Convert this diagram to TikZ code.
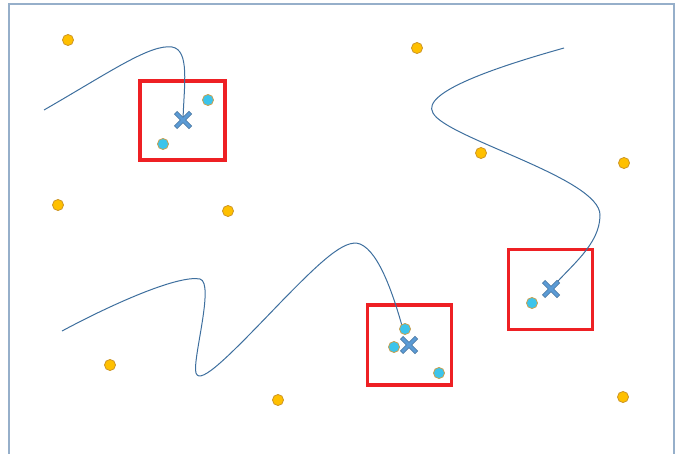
\documentclass[tikz,border=0pt]{standalone}
\usetikzlibrary{calc}
\begin{document}
\begin{tikzpicture}[x=0.75pt,y=-0.75pt,
  orangedot/.style={circle,fill={rgb,255:red,255;green,192;blue,0},draw={rgb,255:red,205;green,150;blue,40},line width=0.6pt,minimum size=8.3pt,inner sep=0pt},
  cyandot/.style={circle,fill={rgb,255:red,60;green,196;blue,235},draw={rgb,255:red,200;green,160;blue,80},line width=0.6pt,minimum size=8.3pt,inner sep=0pt},
  redbox/.style={draw={rgb,255:red,238;green,32;blue,36},line width=2.3pt},
  curve/.style={draw={rgb,255:red,62;green,111;blue,158},line width=0.75pt},
  frameline/.style={draw={rgb,255:red,150;green,175;blue,202},line width=1pt},
  xmarkouter/.style={draw={rgb,255:red,65;green,113;blue,156},line width=3.4pt},
  xmarkline/.style={draw={rgb,255:red,91;green,155;blue,213},line width=2.2pt}
]
\useasboundingbox (0,0) rectangle (677,453);
% frame
\coordinate (fbl) at (9,460);
\coordinate (ftl) at (9,4);
\coordinate (ftr) at (674,4);
\coordinate (fbr) at (674,460);
\draw[frameline] (fbl) -- (ftl) -- (ftr) -- (fbr);

% red boxes
\node[redbox,minimum width=63.75pt,minimum height=59.25pt,inner sep=0pt] (box1) at (182.5,120.5) {};
\node[redbox,minimum width=63pt,minimum height=60pt,inner sep=0pt] (box2) at (409.5,345) {};
\node[redbox,minimum width=63pt,minimum height=60pt,inner sep=0pt] (box3) at (550.5,289.5) {};

% X marks
\coordinate (x1) at (183,120);
\coordinate (x2) at (409,345);
\coordinate (x3) at (551,289);

% curves
\coordinate (c1s) at (44,110);
\draw[curve] (c1s) .. controls (110,72) and (150,44) .. (172,47)
  .. controls (190,50) and (184,85) .. (x1);
\coordinate (c2s) at (564,48);
\draw[curve] (c2s) .. controls (500,66) and (420,92) .. (433,113)
  .. controls (446,138) and (600,178) .. (600,215)
  .. controls (600,245) and (570,266) .. (x3);
\coordinate (c3s) at (62,331);
\coordinate (c3e) at (404,333);
\draw[curve] (c3s) .. controls (120,300) and (180,275) .. (200,279)
  .. controls (215,283) and (192,360) .. (196,373)
  .. controls (200,386) and (230,355) .. (280,303)
  .. controls (320,262) and (345,238) .. (360,244)
  .. controls (380,252) and (395,300) .. (c3e);

\foreach \c in {x1,x2,x3}{
  \draw[xmarkouter] ($(\c)+(-7.5,-7.5)$) -- ($(\c)+(7.5,7.5)$);
  \draw[xmarkouter] ($(\c)+(-7.5,7.5)$) -- ($(\c)+(7.5,-7.5)$);
  \draw[xmarkline] ($(\c)+(-7,-7)$) -- ($(\c)+(7,7)$);
  \draw[xmarkline] ($(\c)+(-7,7)$) -- ($(\c)+(7,-7)$);
}

% orange dots
\node[orangedot] (o1) at (68,40) {};
\node[orangedot] (o2) at (417,48) {};
\node[orangedot] (o3) at (481,153) {};
\node[orangedot] (o4) at (624,163) {};
\node[orangedot] (o5) at (58,205) {};
\node[orangedot] (o6) at (228,211) {};
\node[orangedot] (o7) at (110,365) {};
\node[orangedot] (o8) at (278,400) {};
\node[orangedot] (o9) at (623,397) {};

% cyan dots
\node[cyandot] (b1) at (208,100) {};
\node[cyandot] (b2) at (163,144) {};
\node[cyandot] (b3) at (405,329) {};
\node[cyandot] (b4) at (394,347) {};
\node[cyandot] (b5) at (439,373) {};
\node[cyandot] (b6) at (532,303) {};
\end{tikzpicture}
\end{document}
